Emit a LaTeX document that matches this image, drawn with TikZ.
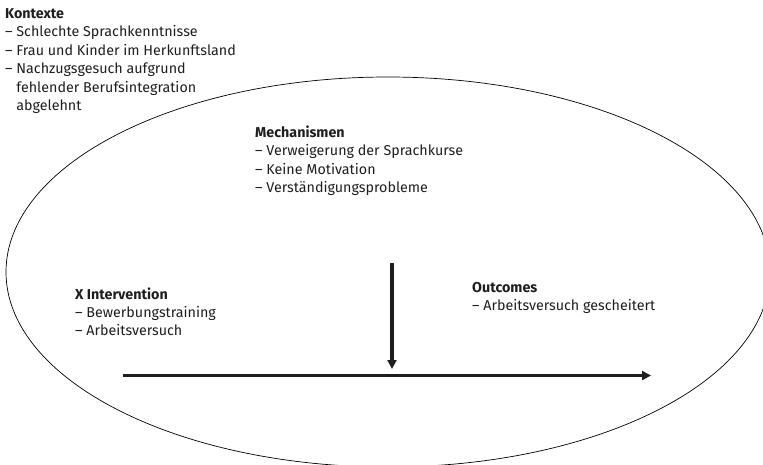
\documentclass[tikz,border=0pt]{standalone}
\usepackage{fontspec}
\setmainfont{Fira Sans}
\usetikzlibrary{arrows.meta,shapes.geometric}
\definecolor{ink}{HTML}{1E1E1E}
\tikzset{
  lbl/.style={anchor=base west, inner sep=0pt, align=left, text=ink,
    font=\fontsize{14.3}{18.4}\selectfont},
  flow/.style={line width=3.1pt, draw=ink, -{Triangle[length=9pt,width=9pt]}},
  outline/.style={draw=black, line width=0.7pt}
}
\begin{document}
\begin{tikzpicture}[x=1pt,y=-1pt]
\useasboundingbox (0,0) rectangle (763,464);
\begin{scope}
\clip (0,0) rectangle (763,464);
\node[outline, ellipse, minimum width=764pt, minimum height=390pt, inner sep=0pt] (ell) at (388,272) {};
\end{scope}
\node[lbl] (kontexte) at (5,110.5) {\textbf{Kontexte}\\– Schlechte Sprachkenntnisse\\– Frau und Kinder im Herkunftsland\\– Nachzugsgesuch aufgrund\\\phantom{– }fehlender Berufsintegration\\\phantom{– }abgelehnt};
\node[lbl] (mech) at (255,192.7) {\textbf{Mechanismen}\\– Verweigerung der Sprachkurse\\– Keine Motivation\\– Verständigungsprobleme};
\node[lbl] (interv) at (75,335.8) {\textbf{X Intervention}\\– Bewerbungstraining\\– Arbeitsversuch};
\node[lbl] (outc) at (472,310.9) {\textbf{Outcomes}\\– Arbeitsversuch gescheitert};
\coordinate (mtop) at (392,263);
\coordinate (mbot) at (392,369);
\coordinate (hstart) at (123,375.5);
\coordinate (hend) at (651,375.5);
\draw[flow] (mtop) -- (mbot);
\draw[flow] (hstart) -- (hend);
\end{tikzpicture}
\end{document}
